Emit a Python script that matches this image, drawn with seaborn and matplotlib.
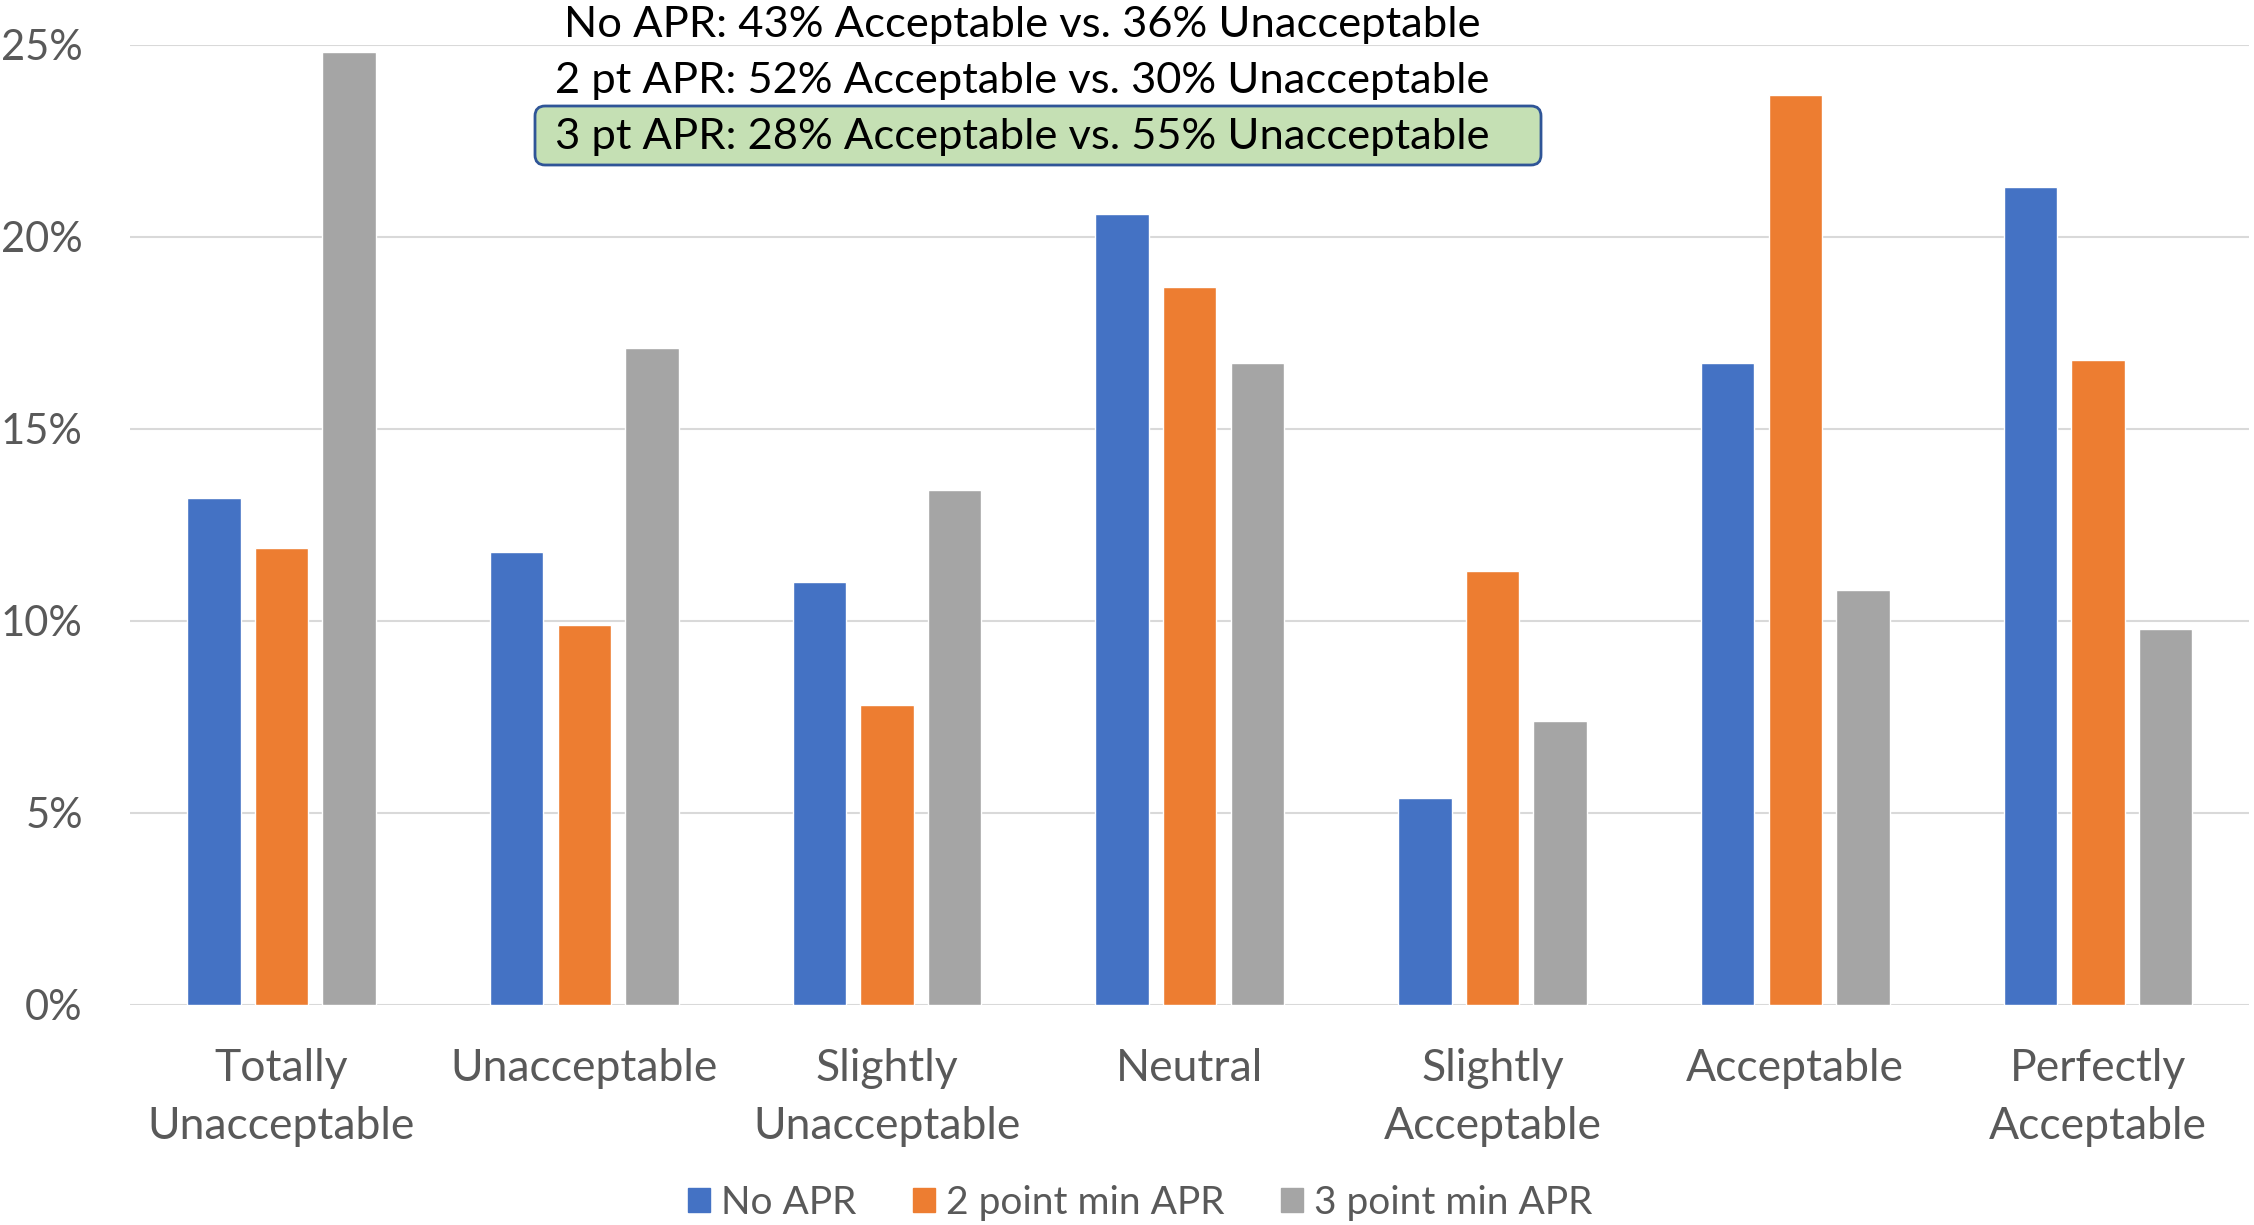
import numpy as np
import pandas as pd
import matplotlib.pyplot as plt
import seaborn as sns
from matplotlib.patches import FancyBboxPatch

# ─── DATA ───────────────────────────────────────────────────────────────────
CATEGORIES = ["Totally\nUnacceptable", "Unacceptable", "Slightly\nUnacceptable",
              "Neutral", "Slightly\nAcceptable", "Acceptable", "Perfectly\nAcceptable"]
SERIES     = ["No APR", "2 point min APR", "3 point min APR"]
NO_APR     = [13.2, 11.8, 11.0, 20.6, 5.4, 16.7, 21.3]
TWO_PT     = [11.9, 9.9, 7.8, 18.7, 11.3, 23.7, 16.8]
THREE_PT   = [24.8, 17.1, 13.4, 16.7, 7.4, 10.8, 9.8]
Y_TICKS    = [0, 5, 10, 15, 20, 25]
NOTES      = ["No APR: 43% Acceptable vs. 36% Unacceptable",
              "2 pt APR: 52% Acceptable vs. 30% Unacceptable",
              "3 pt APR: 28% Acceptable vs. 55% Unacceptable"]

COLORS = ["#4472C4", "#ED7D31", "#A5A5A5"]
FONT   = "Lato"
# ─────────────────────────────────────────────────────────────────────────────

df = pd.DataFrame({
    "category": CATEGORIES * 3,
    "series": [s for s in SERIES for _ in CATEGORIES],
    "value": NO_APR + TWO_PT + THREE_PT,
})

sns.set_style("white")
plt.rcParams["font.family"] = [FONT, "DejaVu Sans"]

fig = plt.figure(figsize=(22.54, 12.25), dpi=100)
ax = fig.add_axes([0.0577, 0.1796, 0.9403, 0.784])

sns.barplot(data=df, x="category", y="value", hue="series", order=CATEGORIES,
            hue_order=SERIES, palette=COLORS, width=0.67, gap=0.21,
            saturation=1, ax=ax, legend=False)

ax.set_xlim(-0.5, len(CATEGORIES) - 0.5)
ax.set_ylim(0, 25)
ax.set_yticks(Y_TICKS)
ax.set_yticklabels([f"{t}%" for t in Y_TICKS])
ax.yaxis.grid(True, color="#D9D9D9", linewidth=1.5)
ax.set_axisbelow(True)
for s in ax.spines.values():
    s.set_visible(False)
ax.tick_params(axis="both", length=0, colors="#595959")
ax.tick_params(axis="y", pad=34, labelsize=30)
ax.tick_params(axis="x", pad=31, labelsize=32)
for lbl in ax.get_xticklabels():
    lbl.set_linespacing(1.5)
ax.set_xlabel("")
ax.set_ylabel("")

# highlight box behind third note (pixel coords)
box = FancyBboxPatch((535, 1225 - 165), 1006, 59, boxstyle="round,pad=0,rounding_size=10",
                     transform=None, facecolor="#C5E0B4", edgecolor="#2F5597",
                     linewidth=2, zorder=5)
fig.patches.append(box)

# annotation block
for note, y in zip(NOTES, [0.980, 0.934, 0.8885]):
    fig.text(0.4536, y, note, ha="center", va="center",
             fontsize=31.3, color="black", zorder=6)

# legend
handles = [plt.Rectangle((0, 0), 1, 1, color=c) for c in COLORS]
fig.legend(handles, SERIES, loc="center", bbox_to_anchor=(0.506, 0.018), ncol=3,
           frameon=False, fontsize=28, handlelength=0.55, handleheight=0.55,
           handletextpad=0.3, columnspacing=1.45, labelcolor="#595959")

fig.savefig("out.png", dpi=100)
